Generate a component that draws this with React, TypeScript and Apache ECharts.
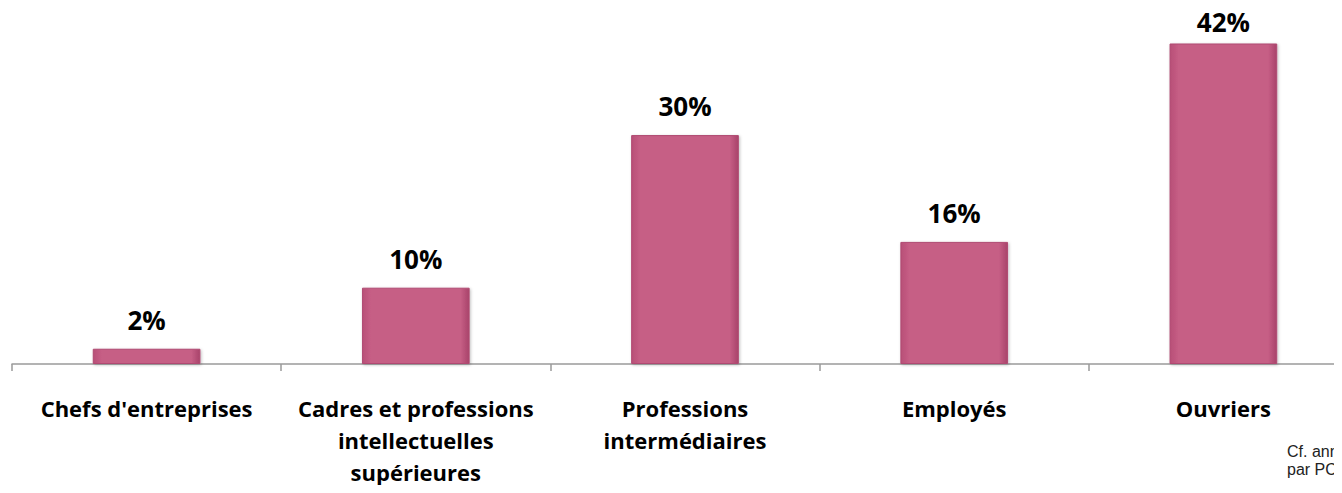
import React, { useEffect, useRef } from "react";
import * as echarts from "echarts";

const categories = [
  "Chefs d'entreprises",
  "Cadres et professions\nintellectuelles\nsupérieures",
  "Professions\nintermédiaires",
  "Employés",
  "Ouvriers",
];
const values = [2, 10, 30, 16, 42];
const footnote = "Cf. ann\npar PC";

export default function App() {
  const ref = useRef<HTMLDivElement>(null);
  useEffect(() => {
    if (!ref.current) return;
    const chart = echarts.init(ref.current, null, { renderer: "svg" });
    const data = values.map((v, i) =>
      i === values.length - 1 ? { value: v, label: { distance: 8 } } : v
    );
    chart.setOption({
      animation: false,
      grid: { left: 12, top: 0, width: 1346, height: 364 },
      xAxis: {
        type: "category",
        data: categories,
        boundaryGap: true,
        axisLine: { lineStyle: { color: "#9a9a9a", width: 1.5 } },
        axisTick: { show: true, length: 7, lineStyle: { color: "#9a9a9a", width: 1.5 } },
        axisLabel: {
          interval: 0,
          margin: 28,
          fontFamily: "Open Sans",
          fontWeight: "bold",
          fontSize: 22,
          lineHeight: 32,
          color: "#000",
        },
      },
      yAxis: { type: "value", min: 0, max: 47.7, show: false, splitLine: { show: false } },
      series: [
        {
          type: "bar",
          data,
          barWidth: "40%",
          itemStyle: {
            color: {
              type: "linear",
              x: 0, y: 0, x2: 1, y2: 0,
              colorStops: [
                { offset: 0, color: "#b84f77" },
                { offset: 0.08, color: "#c65e85" },
                { offset: 0.92, color: "#c65e85" },
                { offset: 1, color: "#a8436a" },
              ],
            },
            borderColor: "#b04a72",
            borderWidth: 1,
            shadowColor: "rgba(0,0,0,0.25)",
            shadowBlur: 3,
            shadowOffsetX: 1,
            shadowOffsetY: 1,
          },
          label: {
            show: true,
            position: "top",
            distance: 16,
            formatter: "{c}%",
            fontFamily: "Open Sans",
            fontWeight: "bold",
            fontSize: 26,
            color: "#000",
          },
        },
      ],
      graphic: [
        {
          type: "text",
          left: 1287,
          top: 442,
          style: {
            text: footnote,
            fontFamily: "Liberation Sans",
            fontSize: 16,
            lineHeight: 18,
            fill: "#222",
          },
        },
      ],
    });
    return () => chart.dispose();
  }, []);
  return (
    <div style={{ width: 1342, height: 493, margin: -8, overflow: "hidden" }}>
      <div ref={ref} style={{ width: 1372, height: 493 }} />
    </div>
  );
}
